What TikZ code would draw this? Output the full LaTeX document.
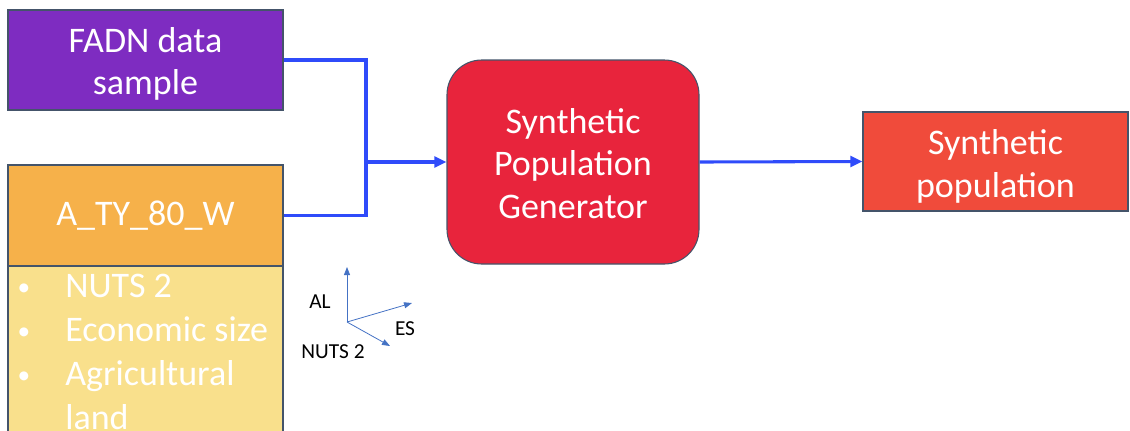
\documentclass[tikz,border=0pt]{standalone}
\usepackage{fontspec}
\setmainfont{Carlito}
\usetikzlibrary{arrows.meta}
\definecolor{fadncol}{HTML}{7E2CC1}
\definecolor{atycol}{HTML}{F6B14A}
\definecolor{listcol}{HTML}{F9E08C}
\definecolor{spgcol}{HTML}{E8243C}
\definecolor{spcol}{HTML}{F04B3B}
\definecolor{edgecol}{HTML}{44546A}
\definecolor{conncol}{HTML}{2F4BFA}
\definecolor{axiscol}{HTML}{4472C4}
\begin{document}
\begin{tikzpicture}[x=0.75pt,y=-0.75pt,
  box/.style={draw=edgecol,line width=0.8pt,inner sep=0pt},
  boxtext/.style={text=white,align=center,inner sep=0pt,
    font=\fontsize{27}{32}\selectfont},
  conn/.style={draw=conncol,line width=2.3pt},
  connarrow/.style={conn,-{Triangle[length=9pt,width=8pt]}},
  axis/.style={draw=axiscol,line width=0.6pt,-{Triangle[length=6pt,width=4.5pt]}},
  axlabel/.style={font=\fontsize{16}{18}\selectfont,text=black,inner sep=0pt},
  bullet/.style={font=\fontsize{19}{22}\selectfont,text=white,anchor=base,inner sep=0pt},
  listtext/.style={font=\fontsize{27}{32}\selectfont,text=white,anchor=base west,inner sep=0pt}]
\useasboundingbox (0,0) rectangle (1130,430);
\clip (0,0) rectangle (1130,430);
% boxes
\node[box,fill=fadncol,minimum width=206.25pt,minimum height=75pt] (fadn) at (145.5,60) {};
\node[box,fill=listcol,minimum width=206.25pt,minimum height=145.5pt] (list) at (145.5,363) {};
\node[box,fill=atycol,minimum width=206.25pt,minimum height=75.75pt] (aty) at (145.5,215.5) {};
\node[box,fill=spgcol,minimum width=189pt,minimum height=153pt,rounded corners=26pt] (spg) at (573,162) {};
\node[box,fill=spcol,minimum width=198.75pt,minimum height=74.25pt] (sp) at (995.5,161.5) {};
% box texts
\node[boxtext] (fadnt) at ([yshift=-3pt]fadn.center) {FADN data\\sample};
\node[boxtext] (atyt) at (aty.center) {A\_TY\_80\_W};
\node[boxtext] (spgt) at ([yshift=-1pt]spg.center) {Synthetic\\Population\\Generator};
\node[boxtext] (spt) at ([yshift=-3.5pt]sp.center) {Synthetic\\population};
% list items
\node[bullet] (b1) at (24,295) {•};
\node[listtext] (t1) at (65,297) {NUTS 2};
\node[bullet] (b2) at (24,339) {•};
\node[listtext] (t2) at (65,341) {Economic size};
\node[bullet] (b3) at (24,383) {•};
\node[listtext] (t3) at (65,385) {Agricultural};
\node[listtext] (t4) at (65,429) {land};
% connectors
\coordinate (j) at (366,162);
\draw[conn] (fadn.east) -| (j);
\draw[conn] (aty.east) -| (j);
\draw[connarrow] (j) -- (spg.west);
\draw[connarrow] (spg.east) -- (sp.west);
% axes
\coordinate (o) at (347,322);
\coordinate (alend) at (347,267);
\coordinate (esend) at (412,303);
\coordinate (nutsend) at (390,346);
\draw[axis] (o) -- (alend);
\draw[axis] (o) -- (esend);
\draw[axis] (o) -- (nutsend);
\node[axlabel] (al) at (320,302) {AL};
\node[axlabel] (es) at (405,329) {ES};
\node[axlabel] (nuts) at (333,352) {NUTS 2};
\end{tikzpicture}
\end{document}
